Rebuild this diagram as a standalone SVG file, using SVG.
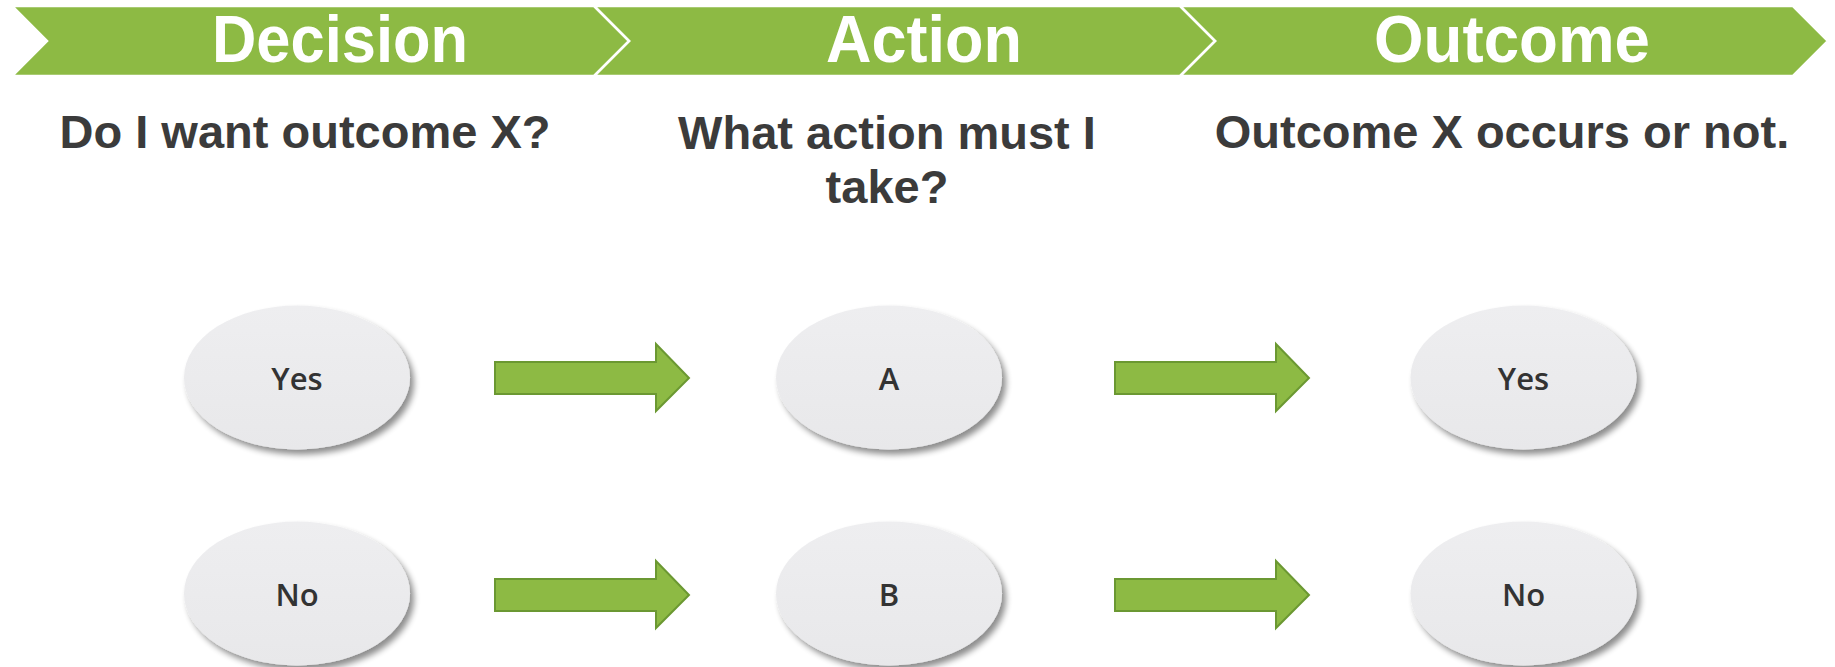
<svg xmlns="http://www.w3.org/2000/svg" width="1835" height="667" viewBox="0 0 1835 667">
  <defs>
    <linearGradient id="bubbleFill" x1="0" y1="0" x2="0" y2="1">
      <stop offset="0" stop-color="#eeeef0"/>
      <stop offset="1" stop-color="#e8e8ea"/>
    </linearGradient>
    <filter id="softShadow" x="-20%" y="-20%" width="140%" height="150%">
      <feGaussianBlur in="SourceAlpha" stdDeviation="3"/>
      <feOffset dx="4" dy="5" result="blur"/>
      <feComponentTransfer><feFuncA type="linear" slope="0.45"/></feComponentTransfer>
      <feMerge><feMergeNode/><feMergeNode in="SourceGraphic"/></feMerge>
    </filter>
  </defs>
  <style>
    .band { fill: #8dba44; stroke: #ffffff; stroke-width: 2.5; stroke-linejoin: miter; }
    .band-label { font-family: "Liberation Sans", Arial, sans-serif; font-weight: bold; font-size: 66px; fill: #ffffff; text-anchor: middle; }
    .question { font-family: "Liberation Sans", Arial, sans-serif; font-weight: bold; font-size: 47px; fill: #3b3b3b; text-anchor: middle; }
    .bubble { fill: url(#bubbleFill); filter: url(#softShadow); }
    .bubble-label { font-family: "Open Sans", "Noto Sans", sans-serif; font-weight: 600; font-size: 31px; fill: #333333; text-anchor: middle; }
    .flow { fill: #8dba44; stroke: #6b9832; stroke-width: 2; stroke-linejoin: miter; }
  </style>

  <!-- header chevrons -->
  <g id="stage-outcome">
    <path class="band" d="M1180,6 H1793 L1828,41 L1793,76 H1180 L1215,41 Z"/>
    <text class="band-label" x="1512" y="62" textLength="276" lengthAdjust="spacingAndGlyphs">Outcome</text>
  </g>
  <g id="stage-action">
    <path class="band" d="M594,6 H1180 L1215,41 L1180,76 H594 L629,41 Z"/>
    <text class="band-label" x="924" y="62" textLength="196" lengthAdjust="spacingAndGlyphs">Action</text>
  </g>
  <g id="stage-decision">
    <path class="band" d="M12,6 H594 L629,41 L594,76 H12 L47,41 Z"/>
    <text class="band-label" x="340" y="62" textLength="256" lengthAdjust="spacingAndGlyphs">Decision</text>
  </g>

  <!-- column questions -->
  <g id="question-decision">
    <text class="question" x="305" y="148">Do I want outcome X?</text>
  </g>
  <g id="question-action">
    <text class="question" x="887" y="149">What action must I</text>
    <text class="question" x="887" y="203">take?</text>
  </g>
  <g id="question-outcome">
    <text class="question" x="1502" y="148">Outcome X occurs or not.</text>
  </g>

  <!-- choice bubbles -->
  <g id="decision-yes">
    <ellipse class="bubble" cx="297" cy="377.5" rx="113" ry="72"/>
    <text class="bubble-label" x="297" y="390">Yes</text>
  </g>
  <g id="decision-no">
    <ellipse class="bubble" cx="297" cy="593.5" rx="113" ry="72"/>
    <text class="bubble-label" x="297" y="606">No</text>
  </g>
  <g id="action-a">
    <ellipse class="bubble" cx="889" cy="377.5" rx="113" ry="72"/>
    <text class="bubble-label" x="889" y="390">A</text>
  </g>
  <g id="action-b">
    <ellipse class="bubble" cx="889" cy="593.5" rx="113" ry="72"/>
    <text class="bubble-label" x="889" y="606">B</text>
  </g>
  <g id="outcome-yes">
    <ellipse class="bubble" cx="1523.5" cy="377.5" rx="113" ry="72"/>
    <text class="bubble-label" x="1523.5" y="390">Yes</text>
  </g>
  <g id="outcome-no">
    <ellipse class="bubble" cx="1523.5" cy="593.5" rx="113" ry="72"/>
    <text class="bubble-label" x="1523.5" y="606">No</text>
  </g>

  <!-- block arrows between columns -->
  <g id="connectors">
    <path class="flow" d="M495,362 H656 V344 L689,378 L656,411 V394 H495 Z"/>
    <path class="flow" d="M1115,362 H1276 V344 L1309,378 L1276,411 V394 H1115 Z"/>
    <path class="flow" d="M495,579 H656 V561 L689,595 L656,628 V611 H495 Z"/>
    <path class="flow" d="M1115,579 H1276 V561 L1309,595 L1276,628 V611 H1115 Z"/>
  </g>
</svg>
